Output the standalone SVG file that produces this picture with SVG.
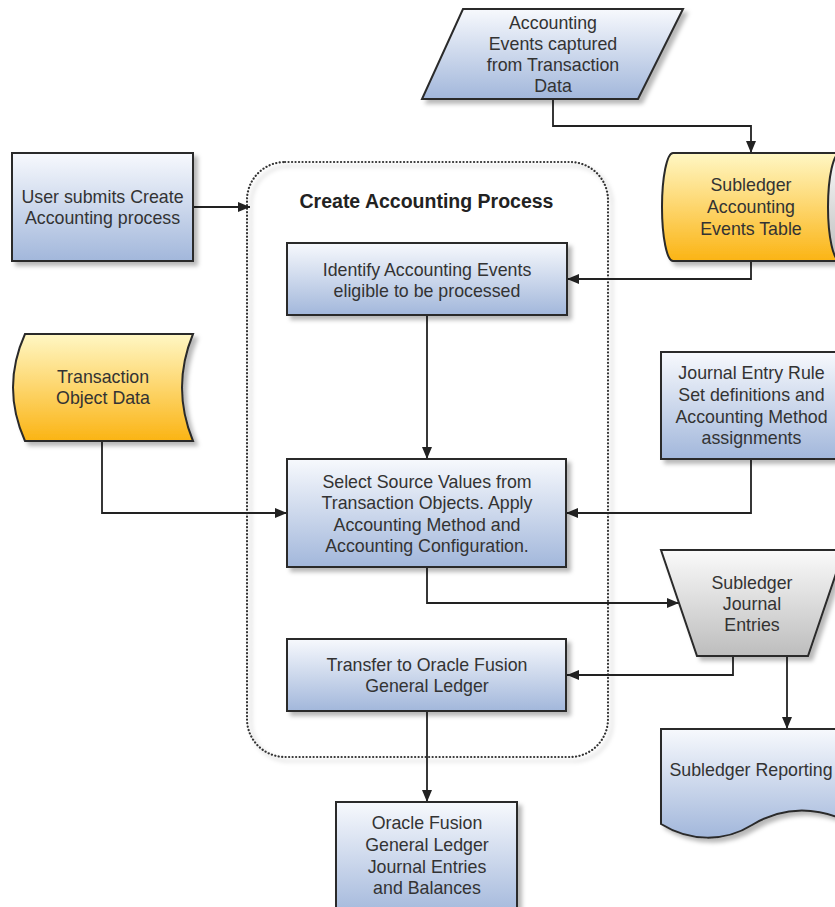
<svg xmlns="http://www.w3.org/2000/svg" width="835" height="907" viewBox="0 0 835 907">
<defs>
<style>
.t{font-family:"Liberation Sans",Arial,sans-serif;font-size:17.8px;fill:#333;text-anchor:middle}
.ttl{font-family:"Liberation Sans",Arial,sans-serif;font-size:19.5px;font-weight:bold;fill:#222;text-anchor:middle}
.blue{fill:url(#gBlue);stroke:#2a2a2a;stroke-width:2;filter:url(#sh)}
.yel{fill:url(#gYel);stroke:#2a2a2a;stroke-width:2;filter:url(#sh)}
.gry{fill:url(#gGry);stroke:#2a2a2a;stroke-width:2;filter:url(#sh)}
.con{fill:none;stroke:#222;stroke-width:1.8;marker-end:url(#arr)}
</style>
<linearGradient id="gBlue" x1="0" y1="0" x2="0" y2="1"><stop offset="0" stop-color="#f7f9fd"/><stop offset="1" stop-color="#a2b7db"/></linearGradient>
<linearGradient id="gYel" x1="0" y1="0" x2="0" y2="1"><stop offset="0" stop-color="#fff7c4"/><stop offset="1" stop-color="#fbb414"/></linearGradient>
<linearGradient id="gGry" x1="0" y1="0" x2="0" y2="1"><stop offset="0" stop-color="#fafafa"/><stop offset="1" stop-color="#bdbdbd"/></linearGradient>
<filter id="sh" x="-10%" y="-10%" width="125%" height="125%"><feDropShadow dx="4" dy="4" stdDeviation="2" flood-color="#000" flood-opacity="0.28"/></filter>
<marker id="arr" markerUnits="userSpaceOnUse" markerWidth="12" markerHeight="10" refX="12" refY="5" orient="auto"><path d="M0,0 L12,5 L0,10 z" fill="#222"/></marker>
</defs>
<rect width="835" height="907" fill="#fff"/>

<g id="process-container">
<rect x="247" y="162" width="361" height="595" rx="38" ry="38" fill="none" stroke="#333" stroke-width="2.2" stroke-dasharray="0.1 3.4" stroke-linecap="round" filter="url(#sh)"/>
<text class="ttl" x="426.5" y="208">Create Accounting Process</text>
</g>

<g id="connectors">
<path class="con" d="M553,99 V126 H751 V153"/>
<path class="con" d="M751,261 V279 H567"/>
<path class="con" d="M193,207 H250"/>
<path class="con" d="M427,315 V459"/>
<path class="con" d="M102,441 V513 H287"/>
<path class="con" d="M751,459 V513 H566"/>
<path class="con" d="M427,567 V603 H679"/>
<path class="con" d="M733,656 V675 H567"/>
<path class="con" d="M787,656 V729"/>
<path class="con" d="M427,711 V802"/>
</g>

<g id="accounting-events">
<polygon class="blue" points="463,9 683,9 638,99 422,99"/>
<text class="t" x="553" y="29">Accounting</text>
<text class="t" x="553" y="50">Events captured</text>
<text class="t" x="553" y="71">from Transaction</text>
<text class="t" x="553" y="92">Data</text>
</g>

<g id="subledger-events-table">
<path class="yel" d="M673,153 H840 A12,54 0 0 1 840,261 H673 A11,54 0 0 1 673,153 Z"/>
<ellipse cx="840" cy="207" rx="12" ry="54" fill="url(#gGry)" stroke="#2a2a2a" stroke-width="2"/>
<text class="t" x="751" y="191">Subledger</text>
<text class="t" x="751" y="213">Accounting</text>
<text class="t" x="751" y="235">Events Table</text>
</g>

<g id="user-submits">
<rect class="blue" x="12" y="153" width="181" height="108"/>
<text class="t" x="102.5" y="203">User submits Create</text>
<text class="t" x="102.5" y="224">Accounting process</text>
</g>

<g id="identify-events">
<rect class="blue" x="287" y="243" width="280" height="72"/>
<text class="t" x="427" y="275.5">Identify Accounting Events</text>
<text class="t" x="427" y="296.5">eligible to be processed</text>
</g>

<g id="transaction-object-data">
<path class="yel" d="M25,334 H193 Q171,387.5 193,441 H25 Q1,387.5 25,334 Z"/>
<text class="t" x="103" y="383">Transaction</text>
<text class="t" x="103" y="404">Object Data</text>
</g>

<g id="journal-entry-rules">
<rect class="blue" x="661" y="352" width="181" height="107"/>
<text class="t" x="751.5" y="379">Journal Entry Rule</text>
<text class="t" x="751.5" y="401">Set definitions and</text>
<text class="t" x="751.5" y="423">Accounting Method</text>
<text class="t" x="751.5" y="444">assignments</text>
</g>

<g id="select-source-values">
<rect class="blue" x="287" y="459" width="279" height="108"/>
<text class="t" x="427" y="488">Select Source Values from</text>
<text class="t" x="427" y="509">Transaction Objects. Apply</text>
<text class="t" x="427" y="530.5">Accounting Method and</text>
<text class="t" x="427" y="552">Accounting Configuration.</text>
</g>

<g id="subledger-journal-entries">
<polygon class="gry" points="661,550 844,550 808,656 697,656"/>
<text class="t" x="752" y="589">Subledger</text>
<text class="t" x="752" y="610">Journal</text>
<text class="t" x="752" y="631">Entries</text>
</g>

<g id="transfer-to-gl">
<rect class="blue" x="287" y="639" width="279" height="72"/>
<text class="t" x="427" y="671">Transfer to Oracle Fusion</text>
<text class="t" x="427" y="692">General Ledger</text>
</g>

<g id="subledger-reporting">
<path class="blue" d="M661,729 H845 V820 C810,805 780,808 752,825 C725,842 690,842 661,824 Z"/>
<text class="t" x="751" y="776">Subledger Reporting</text>
</g>

<g id="gl-journal-entries">
<rect class="blue" x="336" y="802" width="181" height="115"/>
<text class="t" x="427" y="829">Oracle Fusion</text>
<text class="t" x="427" y="851">General Ledger</text>
<text class="t" x="427" y="872.5">Journal Entries</text>
<text class="t" x="427" y="894">and Balances</text>
</g>
</svg>
